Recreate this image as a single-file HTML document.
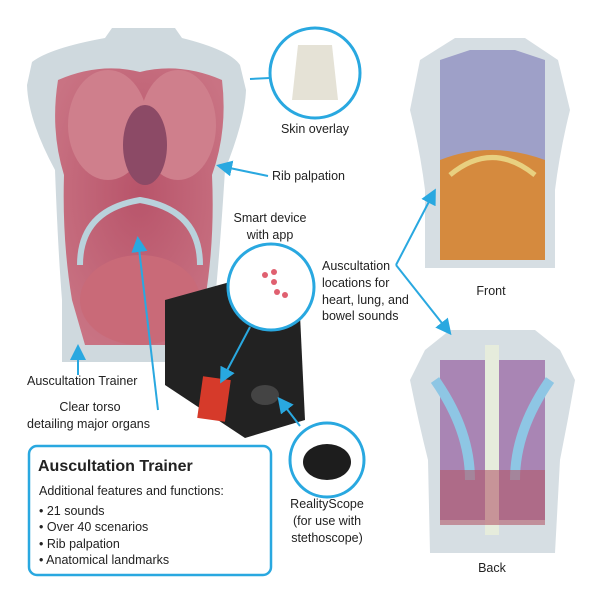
<!DOCTYPE html>
<html><head><style>
body{margin:0;width:600px;height:600px;background:#fff;overflow:hidden;font-family:"Liberation Sans",sans-serif;}
svg{position:absolute;left:0;top:0}
</style></head><body>
<svg width="600" height="600" viewBox="0 0 600 600">
<defs>
<marker id="a" markerWidth="8" markerHeight="8" refX="6" refY="4" orient="auto"><path d="M0,0 L8,4 L0,8z" fill="#29a8e0"/></marker>
<radialGradient id="org" cx="50%" cy="45%" r="60%"><stop offset="0" stop-color="#b8546a"/><stop offset="1" stop-color="#c97383"/></radialGradient>
</defs>
<!-- main torso -->
<path d="M105,38 L112,28 L175,28 L182,38 Q230,50 240,65 L246,90 Q245,120 225,170 Q220,250 215,300 L215,362 L62,362 L62,300 Q58,250 55,170 Q28,120 27,85 L32,62 Q50,48 105,38 Z" fill="#cfd9de"/>
<path d="M58,80 Q100,62 140,72 Q180,62 222,80 Q228,130 212,175 Q215,240 205,300 L195,345 L85,345 L72,300 Q62,240 64,175 Q50,130 58,80Z" fill="url(#org)"/>
<ellipse cx="108" cy="125" rx="40" ry="55" fill="#cf7f8c"/>
<ellipse cx="178" cy="125" rx="38" ry="55" fill="#cf7f8c"/>
<ellipse cx="145" cy="145" rx="22" ry="40" fill="#8c4a66"/>
<ellipse cx="140" cy="300" rx="60" ry="45" fill="#c96a78"/>
<path d="M80,265 Q80,210 140,200 Q200,210 200,265" fill="none" stroke="#b9d2dc" stroke-width="6"/>
<!-- front torso -->
<path d="M420,60 L455,38 L525,38 L558,60 L570,110 Q560,150 555,190 L555,268 L425,268 L425,190 Q420,150 410,110 Z" fill="#d6dee3"/>
<path d="M440,60 L470,50 L515,50 L545,60 L545,160 L440,160Z" fill="#9ea0c8"/>
<path d="M440,160 Q490,140 545,160 L545,260 L440,260Z" fill="#d58a3e"/>
<path d="M450,175 Q492,140 535,175" fill="none" stroke="#e8d080" stroke-width="5"/>
<!-- back torso -->
<path d="M425,350 L450,330 L535,330 L560,350 L575,380 Q568,420 560,460 L555,553 L430,553 L428,460 Q418,420 410,380 Z" fill="#d6dee3"/>
<path d="M440,360 L545,360 L545,520 L440,520Z" fill="#a985b4"/>
<path d="M435,380 Q470,430 470,480 M550,380 Q515,430 515,480" fill="none" stroke="#8ec6e4" stroke-width="10"/>
<rect x="485" y="345" width="14" height="190" fill="#e6ecdc"/>
<rect x="440" y="470" width="105" height="55" fill="#b25a6a" opacity=".6"/>
<!-- case -->
<path d="M165,300 L230,282 L300,315 L305,420 L245,438 L165,385Z" fill="#222"/>
<rect x="200" y="378" width="28" height="42" fill="#d63a2a" transform="rotate(8 214 399)"/>
<ellipse cx="265" cy="395" rx="14" ry="10" fill="#444"/>
<!-- circles -->
<circle cx="315" cy="73" r="45" fill="#fff" stroke="#29a8e0" stroke-width="3"/>
<path d="M298,45 L332,45 L338,100 L292,100Z" fill="#e5e2d6"/>
<circle cx="271" cy="287" r="43" fill="#fff" stroke="#29a8e0" stroke-width="3"/>
<circle cx="265" cy="275" r="3" fill="#e06070"/><circle cx="274" cy="272" r="3" fill="#e06070"/><circle cx="274" cy="282" r="3" fill="#e06070"/><circle cx="277" cy="292" r="3" fill="#e06070"/><circle cx="285" cy="295" r="3" fill="#e06070"/>
<circle cx="327" cy="460" r="37" fill="#fff" stroke="#29a8e0" stroke-width="3"/>
<ellipse cx="327" cy="462" rx="24" ry="18" fill="#1d1d1d"/>
<!-- connectors -->
<g stroke="#29a8e0" stroke-width="2" fill="none">
<line x1="270" y1="78" x2="250" y2="79"/>
<line x1="268" y1="176" x2="220" y2="166" marker-end="url(#a)"/>
<line x1="78" y1="375" x2="78" y2="348" marker-end="url(#a)"/>
<line x1="158" y1="410" x2="138" y2="240" marker-end="url(#a)"/>
<line x1="250" y1="327" x2="222" y2="380" marker-end="url(#a)"/>
<line x1="300" y1="426" x2="280" y2="400" marker-end="url(#a)"/>
<line x1="396" y1="265" x2="434" y2="192" marker-end="url(#a)"/>
<line x1="396" y1="265" x2="449" y2="332" marker-end="url(#a)"/>
</g>
<rect x="29" y="446" width="242" height="129" rx="8" fill="#fff" stroke="#29a8e0" stroke-width="2.5"/>
<g font-family="Liberation Sans, sans-serif" font-size="12.5" fill="#222">
<text x="315" y="133" text-anchor="middle">Skin overlay</text>
<text x="272" y="180">Rib palpation</text>
<text x="270" y="222" text-anchor="middle">Smart device</text>
<text x="270" y="239" text-anchor="middle">with app</text>
<text x="322" y="270">Auscultation</text>
<text x="322" y="287">locations for</text>
<text x="322" y="304">heart, lung, and</text>
<text x="322" y="320">bowel sounds</text>
<text x="491" y="295" text-anchor="middle">Front</text>
<text x="492" y="572" text-anchor="middle">Back</text>
<text x="27" y="385">Auscultation Trainer</text>
<text x="90" y="411" text-anchor="middle">Clear torso</text>
<text x="27" y="428">detailing major organs</text>
<text x="327" y="508" text-anchor="middle">RealityScope</text>
<text x="327" y="525" text-anchor="middle">(for use with</text>
<text x="327" y="542" text-anchor="middle">stethoscope)</text>
<text x="38" y="471" font-size="16" font-weight="bold">Auscultation Trainer</text>
<text x="39" y="495">Additional features and functions:</text>
<text x="39" y="515">• 21 sounds</text>
<text x="39" y="531">• Over 40 scenarios</text>
<text x="39" y="548">• Rib palpation</text>
<text x="39" y="564">• Anatomical landmarks</text>
</g>
</svg>
</body></html>
